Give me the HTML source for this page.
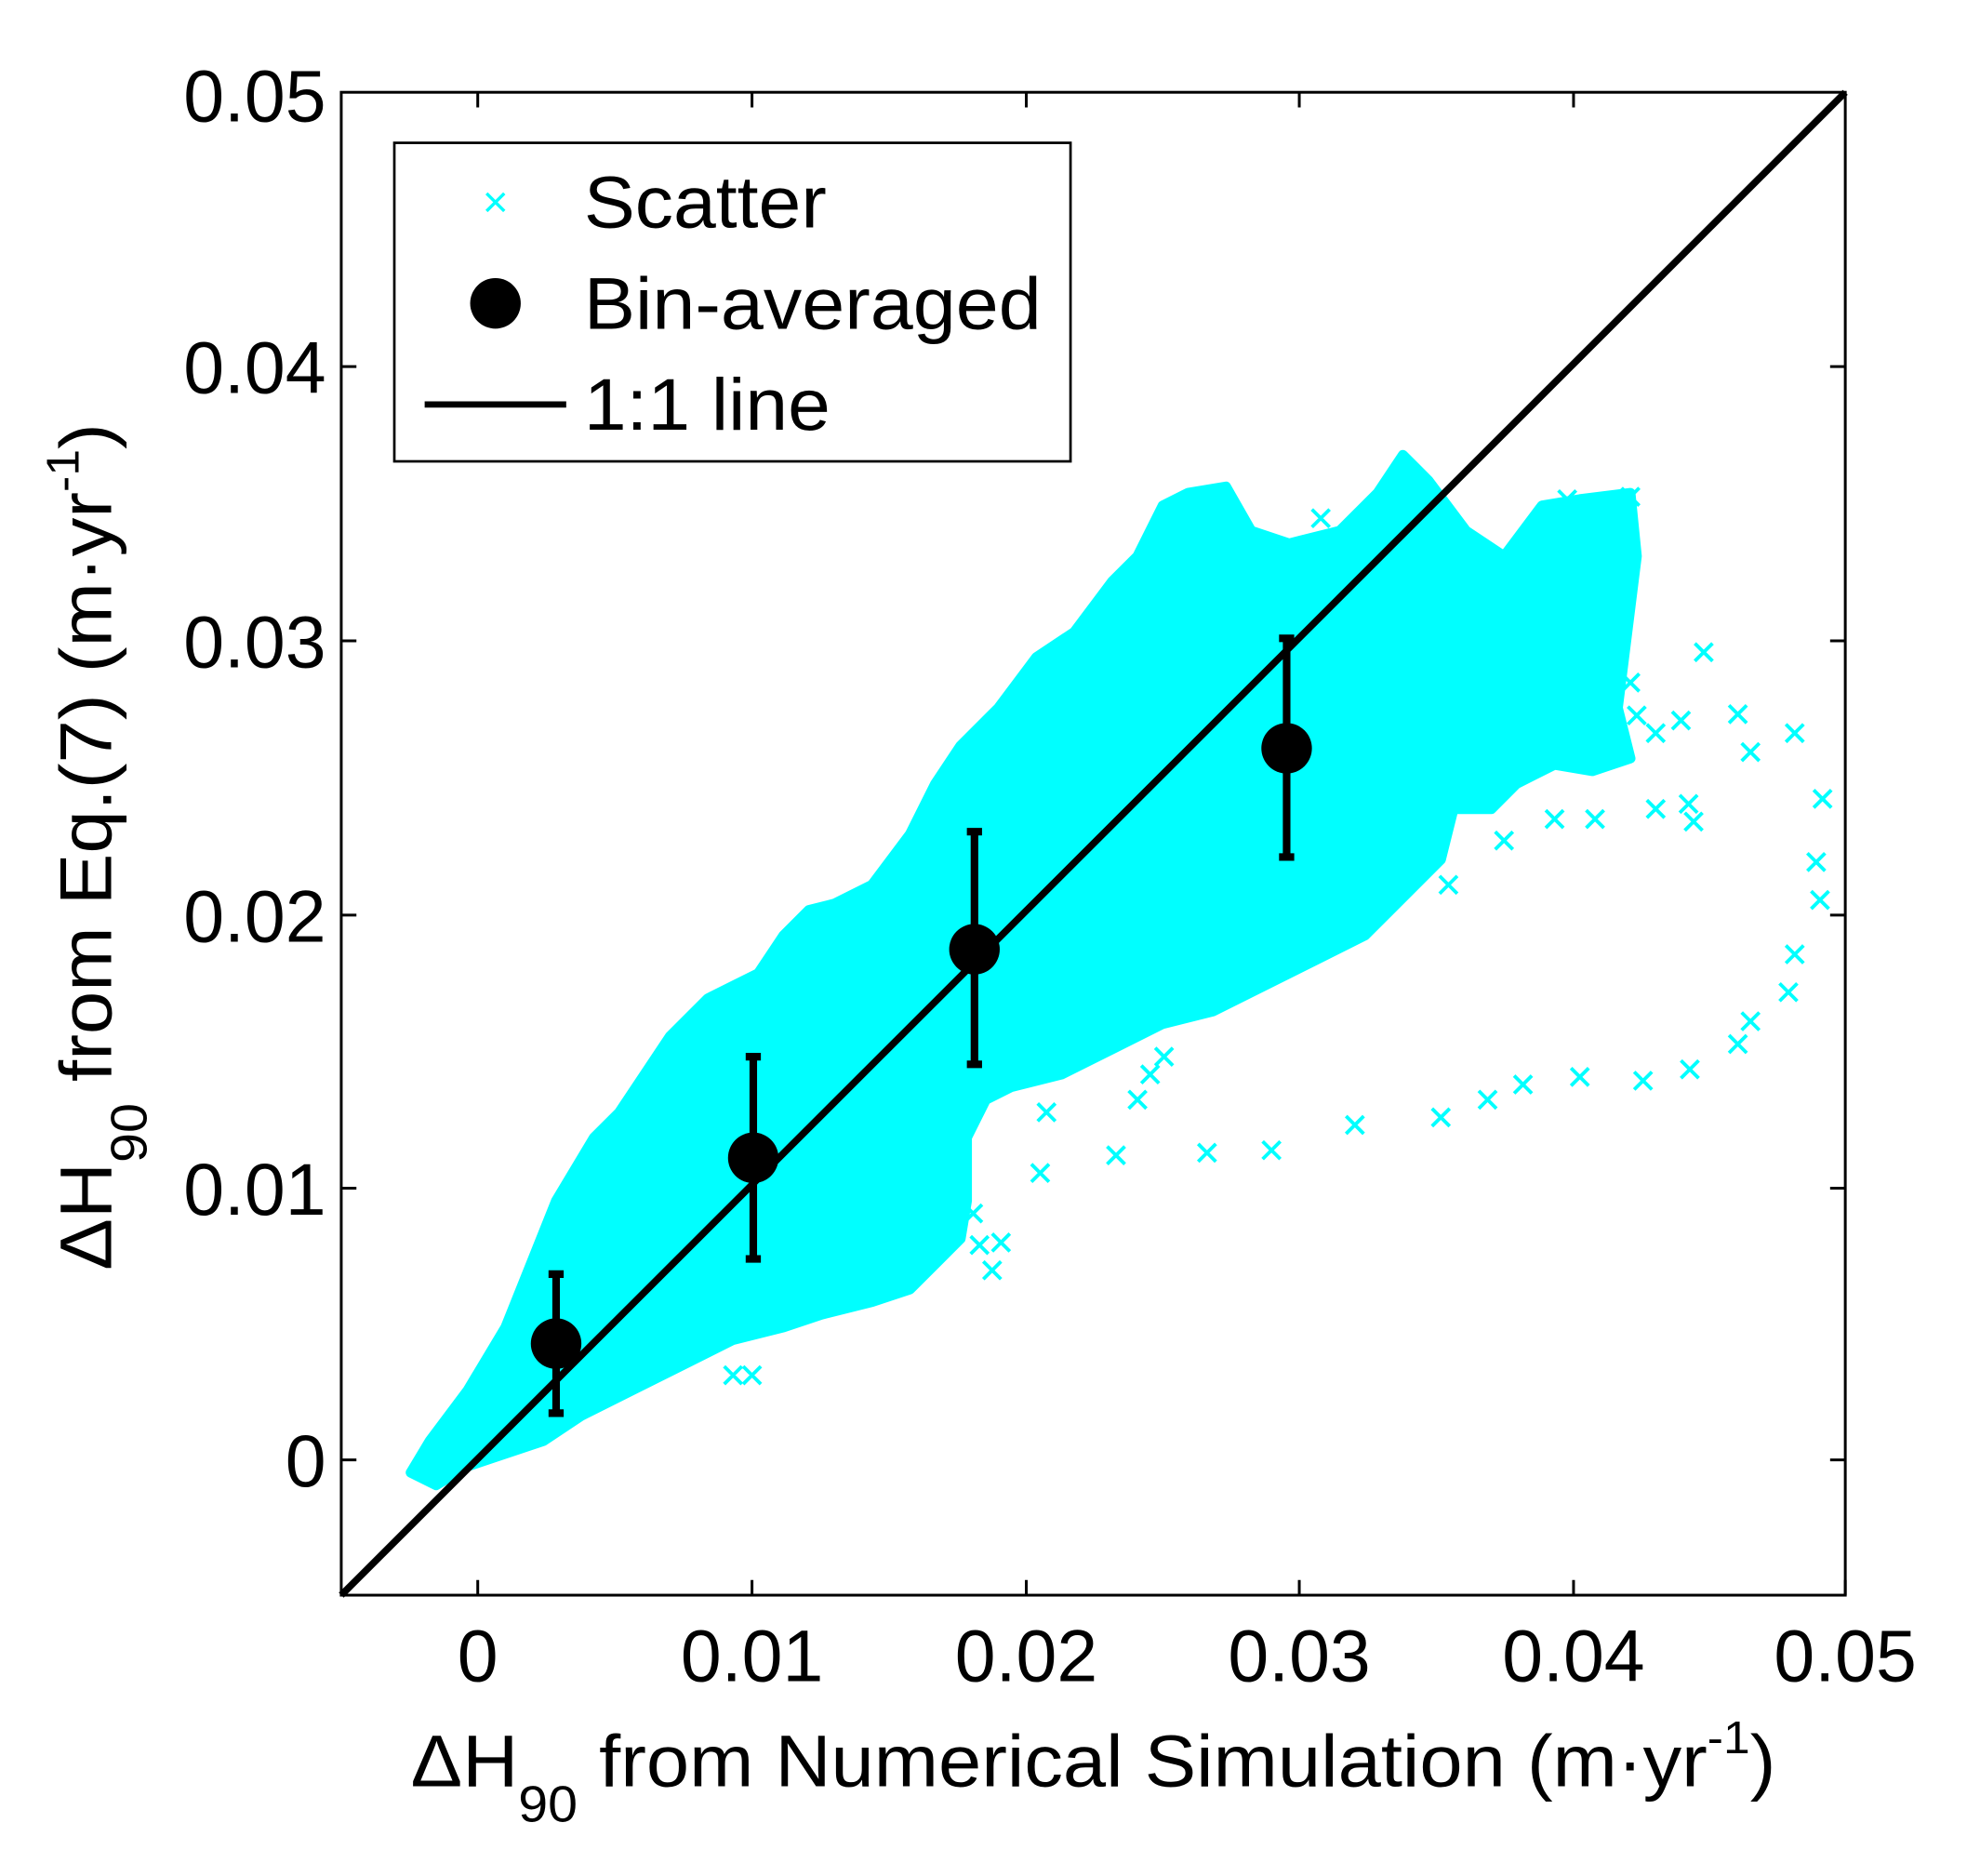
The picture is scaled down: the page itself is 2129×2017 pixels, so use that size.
<!DOCTYPE html>
<html><head><meta charset="utf-8"><style>
html,body{margin:0;padding:0;background:#fff;}
svg{display:block;}
text{font-family:"Liberation Sans",Arial,sans-serif;fill:#000;}
</style></head><body>
<svg width="2129" height="2017" viewBox="0 0 2129 2017" xmlns="http://www.w3.org/2000/svg">
<rect width="2129" height="2017" fill="#fff"/>
<g transform="scale(1.359)">
<!-- cloud -->
<polygon fill="#00ffff" stroke="#00ffff" stroke-width="8" stroke-linejoin="round" points="325,1165 340,1140 370,1100 400,1050 420,1000 440,950 470,900 490,880 510,850 530,820 560,790 580,780 600,770 620,740 640,720 660,715 690,700 720,660 740,620 760,590 790,560 820,520 850,500 880,460 900,440 920,400 940,390 970,385 990,420 1020,430 1060,420 1090,390 1110,360 1130,380 1160,420 1190,440 1220,400 1250,395 1290,390 1295,440 1285,520 1280,560 1290,600 1260,610 1230,605 1200,620 1180,640 1150,640 1140,680 1100,720 1080,740 1040,760 1000,780 960,800 920,810 880,830 840,850 800,860 780,870 765,900 765,950 760,980 740,1000 720,1020 690,1030 650,1040 620,1050 580,1060 540,1080 500,1100 460,1120 430,1140 400,1150 370,1160 345,1175"/>
<g stroke="#00ffff" stroke-width="2.8" fill="none">
<path d="M1368,558l14,14m0,-14l-14,14 M1378,588l14,14m0,-14l-14,14 M1413,573l14,14m0,-14l-14,14 M1435,625l14,14m0,-14l-14,14 M1430,675l14,14m0,-14l-14,14 M1433,705l14,14m0,-14l-14,14 M1413,748l14,14m0,-14l-14,14 M1408,778l14,14m0,-14l-14,14 M1378,801l14,14m0,-14l-14,14 M1368,819l14,14m0,-14l-14,14 M1330,839l14,14m0,-14l-14,14 M1293,848l14,14m0,-14l-14,14 M1243,845l14,14m0,-14l-14,14 M1198,851l14,14m0,-14l-14,14 M1170,863l14,14m0,-14l-14,14 M1133,877l14,14m0,-14l-14,14 M1065,883l14,14m0,-14l-14,14 M999,903l14,14m0,-14l-14,14 M948,905l14,14m0,-14l-14,14 M876,907l14,14m0,-14l-14,14 M816,921l14,14m0,-14l-14,14 M821,873l14,14m0,-14l-14,14 M893,863l14,14m0,-14l-14,14 M903,843l14,14m0,-14l-14,14 M1183,658l14,14m0,-14l-14,14 M1223,641l14,14m0,-14l-14,14 M1255,641l14,14m0,-14l-14,14 M1303,633l14,14m0,-14l-14,14 M1333,643l14,14m0,-14l-14,14 M1303,573l14,14m0,-14l-14,14 M1323,563l14,14m0,-14l-14,14 M1341,509l14,14m0,-14l-14,14 M1283,533l14,14m0,-14l-14,14 M1139,693l14,14m0,-14l-14,14 M573,1081l14,14m0,-14l-14,14 M588,1081l14,14m0,-14l-14,14 M778,998l14,14m0,-14l-14,14 M768,978l14,14m0,-14l-14,14 M785,976l14,14m0,-14l-14,14 M763,953l14,14m0,-14l-14,14 M1283,386l14,14m0,-14l-14,14 M1233,388l14,14m0,-14l-14,14 M1038,403l14,14m0,-14l-14,14 M1288,559l14,14m0,-14l-14,14 M1269,589l14,14m0,-14l-14,14 M1329,629l14,14m0,-14l-14,14 M914,829l14,14m0,-14l-14,14"/>
</g>
<!-- 1:1 line -->
<line x1="270" y1="1262" x2="1460" y2="73" stroke="#000" stroke-width="5.5"/>
<!-- error bars -->
<g stroke="#000" stroke-width="6" fill="#000">
<line x1="440" y1="1008" x2="440" y2="1118"/><line x1="434" y1="1008" x2="446" y2="1008"/><line x1="434" y1="1118" x2="446" y2="1118"/>
<line x1="596" y1="836" x2="596" y2="996"/><line x1="590" y1="836" x2="602" y2="836"/><line x1="590" y1="996" x2="602" y2="996"/>
<line x1="771" y1="658" x2="771" y2="842"/><line x1="765" y1="658" x2="777" y2="658"/><line x1="765" y1="842" x2="777" y2="842"/>
<line x1="1018" y1="505" x2="1018" y2="678"/><line x1="1012" y1="505" x2="1024" y2="505"/><line x1="1012" y1="678" x2="1024" y2="678"/>
</g>
<g fill="#000">
<circle cx="440" cy="1063" r="20"/><circle cx="596" cy="916" r="20"/><circle cx="771" cy="751" r="20"/><circle cx="1018" cy="592" r="20"/>
</g>
<!-- axes box -->
<rect x="270" y="73" width="1190" height="1189" fill="none" stroke="#000" stroke-width="2.2"/>
<g stroke="#000" stroke-width="2.2">
<path d="M378,1262v-12M595,1262v-12M812,1262v-12M1028,1262v-12M1245,1262v-12M1460,1262v-12
M378,73v12M595,73v12M812,73v12M1028,73v12M1245,73v12
M270,1155h12M270,940h12M270,724h12M270,507h12M270,290h12
M1460,1155h-12M1460,940h-12M1460,724h-12M1460,507h-12M1460,290h-12"/>
</g>
<!-- tick labels -->
<g font-size="58" text-anchor="middle">
<text x="378" y="1330">0</text><text x="595" y="1330">0.01</text><text x="812" y="1330">0.02</text><text x="1028" y="1330">0.03</text><text x="1245" y="1330">0.04</text><text x="1460" y="1330">0.05</text>
</g>
<g font-size="58" text-anchor="end">
<text x="258" y="1176">0</text><text x="258" y="961">0.01</text><text x="258" y="745">0.02</text><text x="258" y="528">0.03</text><text x="258" y="311">0.04</text><text x="258" y="96">0.05</text>
</g>
<!-- axis titles -->
<text x="325" y="1413" font-size="58" textLength="1080" lengthAdjust="spacingAndGlyphs">ΔH<tspan font-size="40" dy="28">90</tspan><tspan dy="-28"> from Numerical Simulation (m·yr</tspan><tspan font-size="36" dy="-26">-1</tspan><tspan dy="26">)</tspan></text>
<text transform="translate(88,1005) rotate(-90)" x="0" y="0" font-size="58" textLength="670" lengthAdjust="spacingAndGlyphs">ΔH<tspan font-size="40" dy="28">90</tspan><tspan dy="-28"> from Eq.(7) (m·yr</tspan><tspan font-size="36" dy="-26">-1</tspan><tspan dy="26">)</tspan></text>
<!-- legend -->
<rect x="312" y="113" width="535" height="252" fill="#fff" stroke="#000" stroke-width="2"/>
<path d="M385,153l14,14m0,-14l-14,14" stroke="#00ffff" stroke-width="2.5"/>
<circle cx="392" cy="240" r="20" fill="#000"/>
<line x1="336" y1="320" x2="448" y2="320" stroke="#000" stroke-width="5"/>
<g font-size="58">
<text x="462" y="180" textLength="192" lengthAdjust="spacingAndGlyphs">Scatter</text>
<text x="462" y="260" textLength="362" lengthAdjust="spacingAndGlyphs">Bin-averaged</text>
<text x="462" y="340" textLength="195" lengthAdjust="spacingAndGlyphs">1:1 line</text>
</g>
</g>
</svg>
</body></html>
